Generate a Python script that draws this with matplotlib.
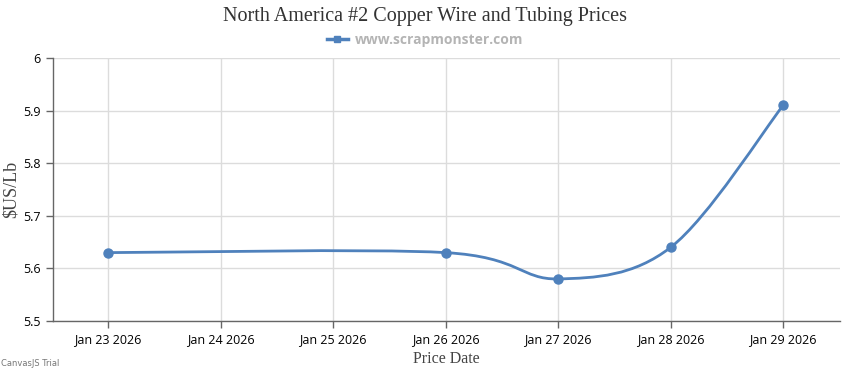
import numpy as np
import matplotlib.pyplot as plt
import matplotlib.dates as mdates
from matplotlib.path import Path
from matplotlib.patches import PathPatch
from matplotlib.lines import Line2D

# 数据
dates = ["2026-01-23", "2026-01-26", "2026-01-27", "2026-01-28", "2026-01-29"]
prices = [5.63, 5.63, 5.58, 5.64, 5.91]
tick_dates = ["2026-01-23", "2026-01-24", "2026-01-25", "2026-01-26",
              "2026-01-27", "2026-01-28", "2026-01-29"]
tick_labels = ["Jan 23 2026", "Jan 24 2026", "Jan 25 2026", "Jan 26 2026",
               "Jan 27 2026", "Jan 28 2026", "Jan 29 2026"]
y_ticks = [5.5, 5.6, 5.7, 5.8, 5.9, 6.0]
y_tick_labels = ["5.5", "5.6", "5.7", "5.8", "5.9", "6"]

line_color = "#4F81BC"
grid_color = "#dcdcdc"
axis_color = "#666666"

x = mdates.datestr2num(dates)
y = np.array(prices)
xt = mdates.datestr2num(tick_dates)


# CanvasJS 风格样条 (Catmull-Rom, tension 2)
def spline_path(px, py, tension=2.0):
    pts = np.column_stack([px, py])
    n = len(pts)
    verts = [pts[0]]
    codes = [Path.MOVETO]
    for i in range(1, n):
        k = i - 1
        a, b = max(k - 1, 0), min(k + 1, n - 1)
        cp1 = pts[k] + (pts[b] - pts[a]) / tension / 3
        k = i
        a, b = max(k - 1, 0), min(k + 1, n - 1)
        cp2 = pts[k] - (pts[b] - pts[a]) / tension / 3
        verts += [cp1, cp2, pts[i]]
        codes += [Path.CURVE4] * 3
    return Path(verts, codes)


fig = plt.figure(figsize=(8.5, 3.7), dpi=100)
ax = fig.add_axes([53 / 850, 1 - 321 / 370, 787 / 850, 263 / 370])

ax.add_patch(PathPatch(spline_path(x, y), facecolor="none",
                       edgecolor=line_color, lw=2, zorder=3))
ax.plot(x, y, "o", color=line_color, markersize=6.5, zorder=4)

ax.set_xlim(xt[0] - 0.49, xt[-1] + 0.505)
ax.set_ylim(5.5, 6.0)
ax.set_xticks(xt)
ax.set_xticklabels(tick_labels)
ax.set_yticks(y_ticks)
ax.set_yticklabels(y_tick_labels)

ax.grid(True, color=grid_color, lw=1)
ax.set_axisbelow(True)
for s in ["top", "right"]:
    ax.spines[s].set_visible(False)
for s in ["left", "bottom"]:
    ax.spines[s].set_color(axis_color)
    ax.spines[s].set_linewidth(1)
ax.tick_params(axis="both", colors=axis_color, length=5, width=1,
               labelcolor="#000000", labelsize=9, pad=4)
for lab in ax.get_xticklabels() + ax.get_yticklabels():
    lab.set_family("Open Sans")

ax.set_xlabel("Price Date", family="Liberation Serif", fontsize=11.5,
              color="#444444", labelpad=3)
ax.set_ylabel("$US/Lb", family="Liberation Serif", fontsize=13,
              color="#444444", labelpad=2)

fig.text(0.5, 1 - 17 / 370, "North America #2 Copper Wire and Tubing Prices",
         ha="center", va="center", family="Liberation Serif", fontsize=14.5,
         color="#333333")

handle = Line2D([], [], color=line_color, lw=2.5, marker="s", markersize=4)
fig.legend([handle], ["www.scrapmonster.com"], loc="center",
           bbox_to_anchor=(0.5, 1 - 40 / 370), frameon=False, handlelength=1.5,
           handletextpad=0.5,
           prop={"family": "Open Sans", "weight": "bold", "size": 10},
           labelcolor="#b4b4b4")

fig.text(1 / 850, 1 - 363 / 370, "CanvasJS Trial", ha="left", va="center",
         family="DejaVu Sans", fontsize=6, color="#777777")

fig.savefig("out.png", dpi=100)
